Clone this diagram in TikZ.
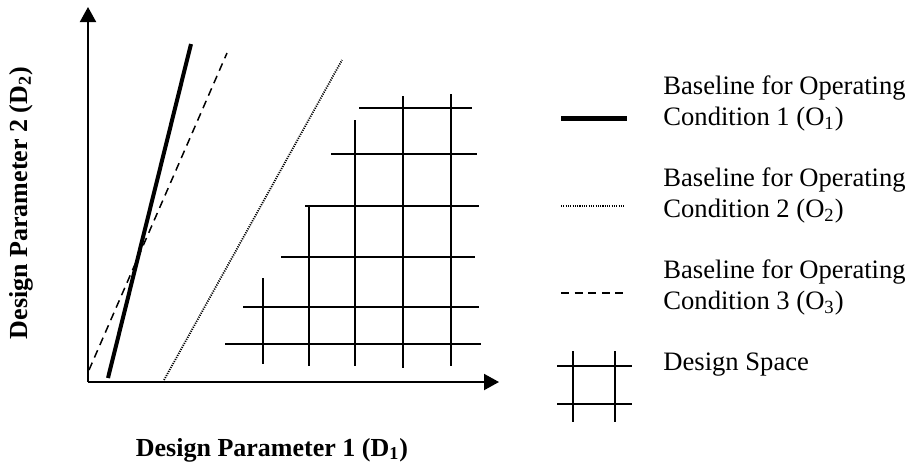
\documentclass[tikz,border=0pt]{standalone}
\usepackage{fontspec}
\setmainfont{Liberation Serif}
\usepackage{tikz}
\usetikzlibrary{arrows.meta, positioning}

\begin{document}
\begin{tikzpicture}[x=0.5pt, y=-0.5pt,
		axis/.style={line width=1pt, -{Triangle[width=8pt, length=7.5pt]}},
		base one/.style={line width=2pt},
		base two/.style={line width=0.9pt, dash pattern=on 0.55pt off 0.6pt},
		base three/.style={line width=0.75pt, dash pattern=on 4pt off 2.8pt},
		gridline/.style={line width=0.8pt},
		legtext/.style={anchor=base west, inner sep=0pt, align=left,
			font=\fontsize{13.3}{15.3}\selectfont},
		axislabel/.style={inner sep=0pt, font=\fontsize{13}{15}\selectfont\bfseries}
		]
		\useasboundingbox (0,0) rectangle (910,467);
		
		% axes
		\coordinate (origin) at (88,382);
		\coordinate (ytop) at (88,7);
		\coordinate (xend) at (499,382);
		\draw[axis] (origin) -- (ytop);
		\draw[axis] (origin) -- (xend);
		
		\node[axislabel] (xlabel) at (272,450) {Design Parameter 1 (D\textsubscript{1})};
		\node[axislabel, rotate=90] (ylabel) at (21,203) {Design Parameter 2 (D\textsubscript{2})};
		
		% baselines
		\coordinate (o1a) at (108,378);
		\coordinate (o1b) at (191,44);
		\coordinate (o2a) at (164,380);
		\coordinate (o2b) at (342,60);
		\coordinate (o3a) at (89,370);
		\coordinate (o3b) at (227,53);
		\draw[base one] (o1a) -- (o1b);
		\draw[base two] (o2a) -- (o2b);
		\draw[base three] (o3a) -- (o3b);
		
		% design space
		\foreach \y/\xa/\xb in {108/359/472, 154/331/477, 206/305/479,
			257/281/475, 307/243/479, 344/225/481}
		\draw[gridline] (\xa,\y) -- (\xb,\y);
		\foreach \x/\ya/\yb in {263/278/364, 309/206/366, 355/120/366,
			403/96/368, 451/94/366}
		\draw[gridline] (\x,\ya) -- (\x,\yb);
		
		% legend
		\node[legtext] (leg1) at (663,125)
		{Baseline for Operating\\Condition 1 (O\textsubscript{1})};
		\node[legtext] (leg2) at (663,217)
		{Baseline for Operating\\Condition 2 (O\textsubscript{2})};
		\node[legtext] (leg3) at (663,309)
		{Baseline for Operating\\Condition 3 (O\textsubscript{3})};
		\node[legtext] (leg4) at (663,370) {Design Space};
		
		\coordinate (k1a) at (561,118);
		\coordinate (k1b) at (627,118);
		\coordinate (k2a) at (561,206);
		\coordinate (k2b) at (625,206);
		\coordinate (k3a) at (561,293);
		\coordinate (k3b) at (625,293);
		\draw[base one, line width=2.5pt] (k1a) -- (k1b);
		\draw[base two] (k2a) -- (k2b);
		\draw[base three] (k3a) -- (k3b);
		\foreach \y in {366, 404}
		\draw[gridline] (557,\y) -- (632,\y);
		\foreach \x in {573, 615}
		\draw[gridline] (\x,351) -- (\x,422);
	\end{tikzpicture}
\end{document}
